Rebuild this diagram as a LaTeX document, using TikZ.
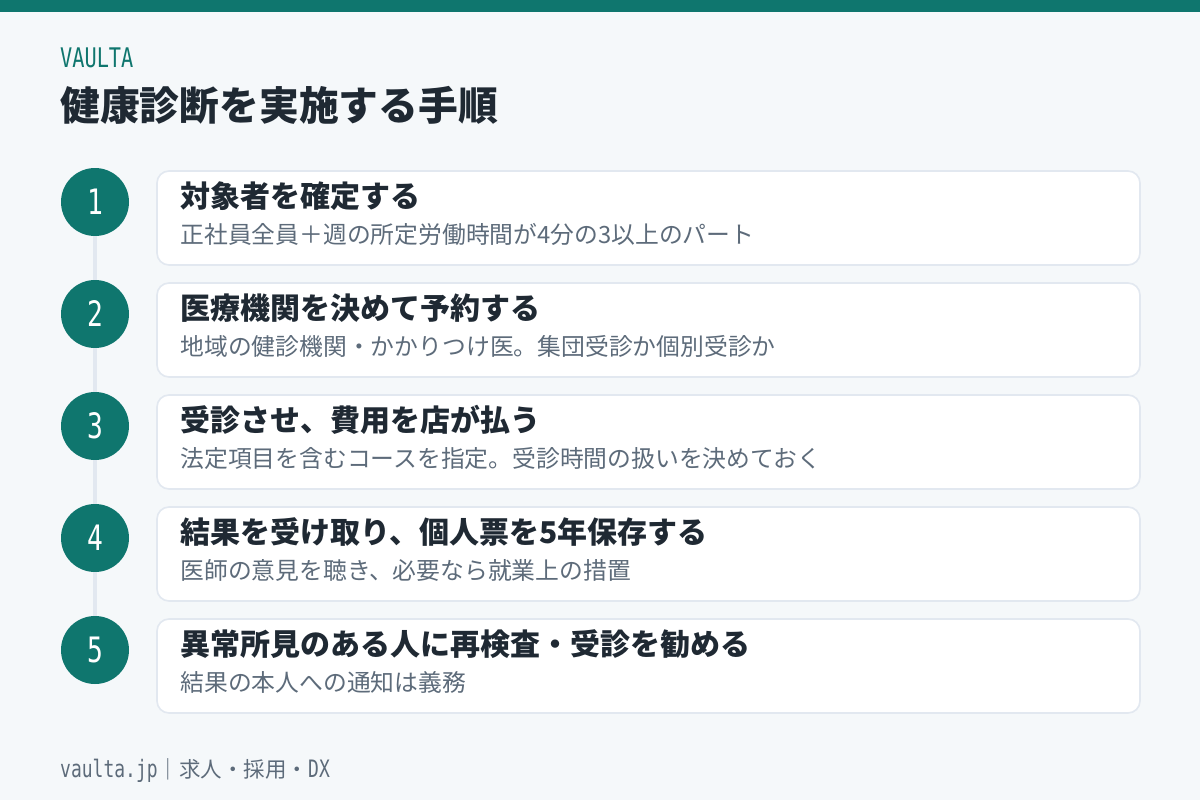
\documentclass[tikz,border=0pt]{standalone}
\usepackage{fontspec}
\setmainfont{Noto Sans CJK JP}
\newfontfamily\monocond{DejaVu Sans Mono}[FakeStretch=0.75]
\usetikzlibrary{positioning}
\definecolor{brand}{HTML}{0F766E}
\definecolor{pagebg}{HTML}{F5F8FA}
\definecolor{ink}{HTML}{1F2933}
\definecolor{muted}{HTML}{5D6B7A}
\definecolor{cardline}{HTML}{E2E8F0}
\begin{document}
\begin{tikzpicture}[x=1pt,y=-1pt,
    numdot/.style={circle,fill=brand,minimum size=68pt,inner sep=0pt,text=white,
      font=\monocond\fontsize{35}{35}\selectfont},
    card/.style={draw=cardline,line width=1.6pt,fill=white,rounded corners=12pt,
      minimum width=983pt,minimum height=94pt,inner sep=0pt},
    head/.style={anchor=base west,inner sep=0pt,text=ink,font=\bfseries\fontsize{30}{34}\selectfont},
    note/.style={anchor=base west,inner sep=0pt,text=muted,font=\fontsize{23.8}{28}\selectfont},
    rail/.style={draw=cardline,line width=4pt}]
  \useasboundingbox (0,0) rectangle (1200,800);
  \fill[pagebg] (0,0) rectangle (1200,800);
  \fill[brand] (0,0) rectangle (1200,12);

  \node[anchor=base west,inner sep=0pt,text=brand,font=\monocond\fontsize{27}{27}\selectfont]
    (brandname) at (60,67) {VAULTA};
  \node[anchor=base west,inner sep=0pt,text=ink,font=\bfseries\fontsize{39.8}{44}\selectfont]
    (title) at (60,120) {健康診断を実施する手順};

  \foreach \i/\stepname/\stepnote in {
      1/対象者を確定する/正社員全員＋週の所定労働時間が4分の3以上のパート,
      2/医療機関を決めて予約する/地域の健診機関・かかりつけ医。集団受診か個別受診か,
      3/受診させ、費用を店が払う/法定項目を含むコースを指定。受診時間の扱いを決めておく,
      4/結果を受け取り、個人票を5年保存する/医師の意見を聴き、必要なら就業上の措置,
      5/異常所見のある人に再検査・受診を勧める/結果の本人への通知は義務}{
    \node[card] (c\i) at (648.5,{218+112*(\i-1)}) {};
    \node[numdot] (n\i) at (95,{202+112*(\i-1)}) {\i};
    \node[head] (h\i) at ([xshift=24pt,yshift=-37pt]c\i.north west) {\stepname};
    \node[note] (t\i) at ([xshift=24pt,yshift=-73pt]c\i.north west) {\stepnote};
  }
  \foreach \i [evaluate=\i as \j using int(\i+1)] in {1,...,4}
    \draw[rail] (n\i) -- (n\j);

  \node[anchor=base west,inner sep=0pt,text=muted,font=\fontsize{21.5}{24}\selectfont]
    (footer) at (60,777) {{\monocond\fontsize{24}{24}\selectfont vaulta.jp}｜求人・採用・{\monocond\fontsize{24}{24}\selectfont DX}};
\end{tikzpicture}
\end{document}
